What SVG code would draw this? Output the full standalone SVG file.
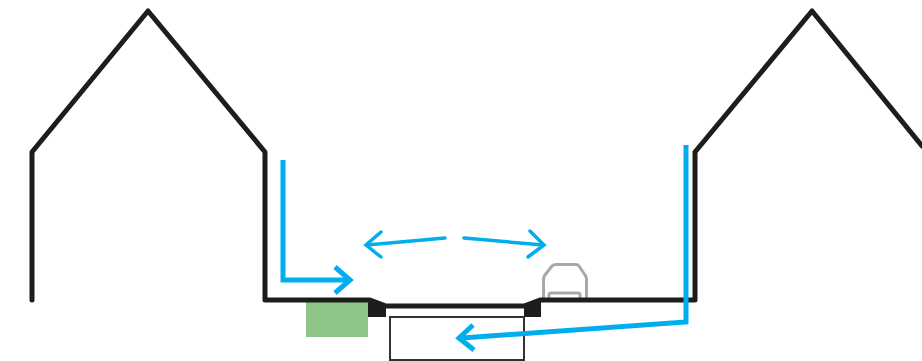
<svg xmlns="http://www.w3.org/2000/svg" width="922" height="361" viewBox="0 0 922 361">
<style>
.wall{fill:none;stroke:#1d1d1b;stroke-width:5;stroke-linecap:round;stroke-linejoin:round}
.blue{fill:none;stroke:#00aeef;stroke-width:5;stroke-linecap:butt;stroke-linejoin:miter}
.blue2{fill:none;stroke:#00aeef;stroke-width:3.5;stroke-linecap:round;stroke-linejoin:miter}
.car{fill:none;stroke:#a8a8a8;stroke-width:3;stroke-linejoin:round}
</style>
<rect width="922" height="361" fill="#fff"/>
<g id="green-strip"><rect x="306" y="302" width="62" height="35" fill="#8cc585"/></g>
<g id="trench"><rect x="390" y="317" width="134" height="43" fill="none" stroke="#333" stroke-width="2"/></g>
<g id="car"><path class="car" d="M543.500 298V279Q543.500 277 545 275L552 266Q553.500 264.500 556 264.500H575Q578 264.500 579 266L585 275Q586.500 277 586.500 279V298"/><path class="car" d="M549 298V295Q549 293 551 293H578Q580 293 580 295V298"/></g>
<g id="ground">
<path class="wall" d="M32 300V152L148 11L265 152V300H370L386 306H524L540 300H695V152L812 11L922 146"/>
<polygon points="368,299 386,305 386,317 368,317" fill="#1d1d1b"/>
<polygon points="541,299 524,305 524,317 541,317" fill="#1d1d1b"/>
</g>
<g id="connectors">
<path class="blue" d="M283 160V280H347"/>
<path class="blue" d="M335 267L350 280L335 293"/>
<path class="blue" d="M686 145V322L462 338"/>
<path class="blue" d="M473 325L459 338L474 350"/>
<path class="blue2" d="M445 238L367 245"/>
<path class="blue2" d="M381 232L366 245L381 257"/>
<path class="blue2" d="M464 238L543 245"/>
<path class="blue2" d="M530 231L544 245L528 257"/>
</g>
</svg>
